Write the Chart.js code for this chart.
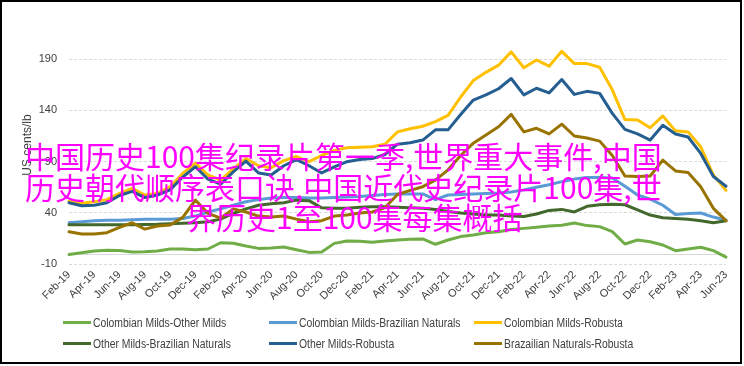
<!DOCTYPE html>
<html><head><meta charset="utf-8">
<script src="https://cdn.jsdelivr.net/npm/chart.js@4.4.1/dist/chart.umd.min.js"></script>
<style>
html,body{margin:0;padding:0;background:#fff;}
#wrap{position:relative;width:744px;height:366px;overflow:hidden;background:#fff;}
#c{position:absolute;left:0;top:0;}
#frame{position:absolute;left:0;top:0;width:742px;height:364px;border:2px solid #000;box-sizing:border-box;pointer-events:none;}
.lg{position:absolute;font-family:"Liberation Sans",sans-serif;font-size:12px;color:#404040;white-space:nowrap;line-height:14px;}
.lg i{display:inline-block;width:28px;height:3px;vertical-align:middle;margin-right:2px;position:relative;top:-1px;}
.lg span{display:inline-block;transform:scaleX(0.865);transform-origin:0 50%;}
.wm{position:absolute;font-family:"Noto Sans CJK SC",sans-serif;font-size:30px;line-height:30px;color:#ff00ff;white-space:nowrap;}
</style></head>
<body>
<div id="wrap">
<canvas id="c" width="744" height="366"></canvas>
<div id="legend"></div>
<div class="wm" style="left:25px;top:140px">中国历史100集纪录片第一季,世界重大事件,中国</div>
<div class="wm" style="left:25px;top:171px">历史朝代顺序表口诀,中国近代史纪录片100集,世</div>
<div class="wm" style="left:186px;top:201px">界历史1至100集每集概括</div>
<div id="frame"></div>
</div>
<script>
const months = ["Feb-19","Mar-19","Apr-19","May-19","Jun-19","Jul-19","Aug-19","Sep-19","Oct-19","Nov-19","Dec-19",
"Jan-20","Feb-20","Mar-20","Apr-20","May-20","Jun-20","Jul-20","Aug-20","Sep-20","Oct-20","Nov-20","Dec-20",
"Jan-21","Feb-21","Mar-21","Apr-21","May-21","Jun-21","Jul-21","Aug-21","Sep-21","Oct-21","Nov-21","Dec-21",
"Jan-22","Feb-22","Mar-22","Apr-22","May-22","Jun-22","Jul-22","Aug-22","Sep-22","Oct-22","Nov-22","Dec-22",
"Jan-23","Feb-23","Mar-23","Apr-23","May-23","Jun-23"];

const seriesNames = ["Colombian Milds-Other Milds","Colombian Milds-Brazilian Naturals","Colombian Milds-Robusta",
"Other Milds-Brazilian Naturals","Other Milds-Robusta","Brazailian Naturals-Robusta"];

const colombianOther = [-0.5,1.3,2.9,3.6,3.4,2.0,2.3,2.9,4.9,4.9,4.2,4.9,11.0,10.5,7.8,5.5,5.8,6.8,4.2,1.6,1.9,10.4,12.7,12.5,11.5,12.7,13.7,14.4,14.7,9.5,13.7,17.0,18.5,20.8,21.8,24.0,25.0,26.0,27.3,28.0,30.3,27.7,26.7,21.8,9.8,13.7,12.0,8.8,3.3,5.0,6.6,3.3,-3.0];
const colombianBrazil = [30.5,31.5,32.5,33,33,33.5,33.8,33.8,34,34.7,37,41,44,47.5,51,53,54.5,55,55,54.5,54.5,55,55.5,56,57,58,58.5,58.5,58.5,53,57.5,58,58.5,59,59.5,60.5,62.5,65,67.5,70.5,73,74.5,74.5,74,66,57.5,53.5,47.5,38.5,39.5,40,36,33];
const colombianRobusta = [51.5,49.5,51,53,59,64,57.5,59,65.5,78.5,88.5,77,72,83,93,86,84,91,95,90,96,101,103.5,104,104.5,107,119,122,124.5,129,135,153,169,177,184,197,181.5,189,183,197.5,185.5,185.5,182,160,131,130.5,123,134.5,120,119,104.5,77,62];
const otherBrazil = [28.5,28.5,28.5,28.5,28.5,28.5,28.8,29,29.5,30,30.5,31.5,34,39.5,44,47.5,49,50,52.5,52,45,44.5,44.5,45.5,46,46,45.5,45,44.5,43.5,41.5,40,39,38,38,37,36.5,39,42.5,43.5,41,46.5,48,48.5,48,43,38,35.3,34.7,33.8,32.5,30.5,32.5];
const otherRobusta = [50,47,47.5,50,57,61,55,57.5,62.5,75,85,73,68,80,90.5,79,77,86,92,86,79,85,90,92,93,97,107,108.5,111,121,121,136,150,155,161,171,155,161.5,157,170,155.5,158.5,156.5,137,121.5,117,111,125.5,117,114,98,75.5,66];
const brazilRobusta = [21.7,19.5,19.5,20.8,26,30.5,24.3,27.3,28.2,35.7,52.6,39.6,35,44,41,37,36,37,34,31.5,32.5,37,38,40,41,45,58,62,65.6,72,82,96,108,116,124,136,119,122.5,117,126.5,115,113,110,96,76,75.5,76,91.5,81,79.5,65.5,44.5,32.5];

const yTicks = [-10,40,90,140,190];
const yTitle = "US cents/lb";
const colors = ["#70AD47","#5B9BD5","#FFC000","#43682B","#255E91","#997300"];
const seriesData = [colombianOther,colombianBrazil,colombianRobusta,otherBrazil,otherRobusta,brazilRobusta];

// legend (HTML)
const legendPos = [[63,316],[269,316],[474,316],[63,337],[269,337],[474,337]];
const lg = document.getElementById('legend');
seriesNames.forEach((n,i)=>{
  const d = document.createElement('div');
  d.className='lg';
  d.style.left = legendPos[i][0]+'px';
  d.style.top = legendPos[i][1]+'px';
  d.innerHTML = '<i style="background:'+colors[i]+'"></i><span>'+n+'</span>';
  lg.appendChild(d);
});

const extras = {
  id:'extras',
  beforeDatasetsDraw(chart){
    const {ctx, chartArea, scales:{y}} = chart;
    const py = Math.round(y.getPixelForValue(0))+0.5;
    ctx.save();
    ctx.strokeStyle='#d9d9d9'; ctx.lineWidth=1;
    ctx.beginPath(); ctx.moveTo(chartArea.left,py); ctx.lineTo(chartArea.right,py); ctx.stroke();
    ctx.translate(28,145); ctx.rotate(-Math.PI/2);
    ctx.fillStyle='#404040'; ctx.font='12px "Liberation Sans", sans-serif';
    ctx.textAlign='center'; ctx.textBaseline='middle';
    ctx.fillText(yTitle,0,0);
    ctx.restore();
  }
};

new Chart(document.getElementById('c'),{
  type:'line',
  data:{
    labels: months,
    datasets: seriesNames.map((n,i)=>({
      label:n, data:seriesData[i], borderColor:colors[i], backgroundColor:colors[i],
      borderWidth:3, pointRadius:0, tension:0, fill:false, clip:false,
      borderJoinStyle:'round', borderCapStyle:'round', order:6-i
    }))
  },
  options:{
    responsive:false, animation:false, devicePixelRatio:1,
    layout:{padding:{left:0,right:18,top:59,bottom:41.7}},
    plugins:{legend:{display:false},tooltip:{enabled:false}},
    scales:{
      x:{
        grid:{display:false,drawTicks:false},
        border:{display:false},
        ticks:{autoSkip:false,maxRotation:45,minRotation:45,padding:4,color:'#404040',
          font:{family:'"Liberation Sans", sans-serif',size:11},
          callback:(v,i)=> (i%2===0 ? months[i] : '')},
        afterFit:(s)=>{s.height=60;}
      },
      y:{
        min:-10,max:190,
        afterBuildTicks:(s)=>{s.ticks = yTicks.map(v=>({value:v}));},
        ticks:{padding:12,color:'#404040',font:{family:'"Liberation Sans", sans-serif',size:11}},
        grid:{color:'#d9d9d9',drawTicks:false,lineWidth:1},
        border:{display:false,dash:[3,2]},
        afterFit:(s)=>{s.width=69;}
      }
    }
  },
  plugins:[extras]
});
</script>
</body></html>
